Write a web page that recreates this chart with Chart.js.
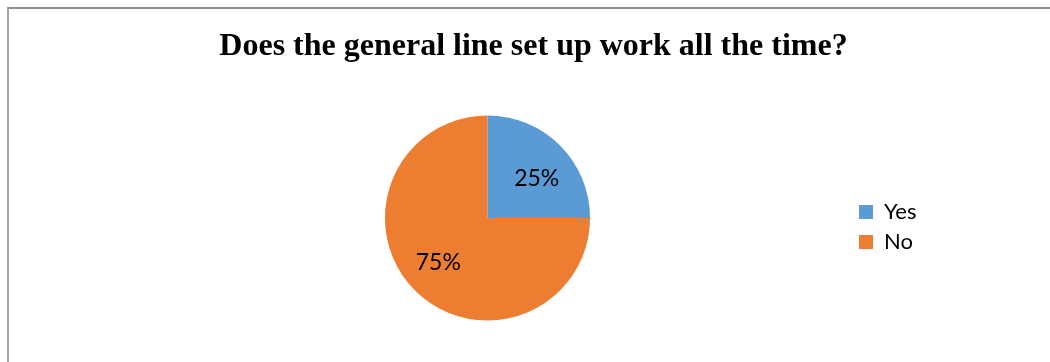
<!DOCTYPE html>
<html>
<head>
<meta charset="utf-8">
<script src="https://cdn.jsdelivr.net/npm/chart.js@4"></script>
<style>
    html, body { margin: 0; padding: 0; background: #fff; overflow: hidden; width: 1050px; height: 362px; }
    .edge { position: absolute; }
    #edgeTop { left: 7px; top: 7px; width: 1043px; height: 2px; background: #8f8f8f; }
    #edgeLeft { left: 7px; top: 7px; width: 2px; height: 355px; background: #a3a3a3; }
    #myChart { position: absolute; left: 9px; top: 9px; }
</style>
</head>
<body>
<div class="edge" id="edgeTop"></div>
<div class="edge" id="edgeLeft"></div>
<canvas id="myChart" width="934" height="353"></canvas>
<script>
// Data
var labels = ['Yes', 'No'];
var values = [25, 75];
var colors = ['#5B9BD5', '#ED7D31'];
var chartTitle = 'Does the general line set up work all the time?';

// Ve phan tram len tung lat banh
const sliceLabels = {
    id: 'sliceLabels',
    afterDatasetsDraw(chart) {
        const ctx = chart.ctx;
        const meta = chart.getDatasetMeta(0);
        const total = values.reduce((a, b) => a + b, 0);
        ctx.save();
        ctx.font = '23px Lato';
        ctx.fillStyle = '#000';
        ctx.textAlign = 'center';
        ctx.textBaseline = 'middle';
        meta.data.forEach((arc, i) => {
            const p = arc.getProps(['x', 'y', 'startAngle', 'endAngle', 'outerRadius']);
            const mid = (p.startAngle + p.endAngle) / 2 + 0.08;
            const r = p.outerRadius * 0.63;
            const txt = Math.round(values[i] / total * 100) + '%';
            ctx.fillText(txt, p.x + Math.cos(mid) * r, p.y + Math.sin(mid) * r + 3);
        });
        ctx.restore();
    }
};

// Legend rong hon de tieu de nam dung cho
const legendWidth = {
    id: 'legendWidth',
    afterInit(chart) {
        const fit = chart.legend.fit;
        chart.legend.fit = function () {
            fit.call(this);
            this.width = Math.max(this.width, 92);
        };
    }
};

var ctx = document.getElementById('myChart').getContext('2d');
var myChart = new Chart(ctx, {
    type: 'pie',
    data: {
        labels: labels,
        datasets: [{
            data: values,
            backgroundColor: colors,
            borderWidth: 0
        }]
    },
    options: {
        responsive: false,
        animation: false,
        layout: { padding: { left: 115, right: 0, top: 0, bottom: 41.5 } },
        plugins: {
            title: {
                display: true,
                text: chartTitle,
                color: '#000',
                font: { family: '"Liberation Serif", "Times New Roman", serif', size: 32, weight: 'bold' },
                padding: { top: 19, bottom: 49 }
            },
            legend: {
                position: 'right',
                fullSize: false,
                title: { display: true, text: '', padding: 0, font: { size: 15 } },
                labels: {
                    boxWidth: 14,
                    boxHeight: 14,
                    padding: 8,
                    color: '#000',
                    font: { family: 'Lato', size: 22 }
                }
            },
            tooltip: { enabled: false }
        }
    },
    plugins: [sliceLabels, legendWidth]
});
</script>
</body>
</html>
